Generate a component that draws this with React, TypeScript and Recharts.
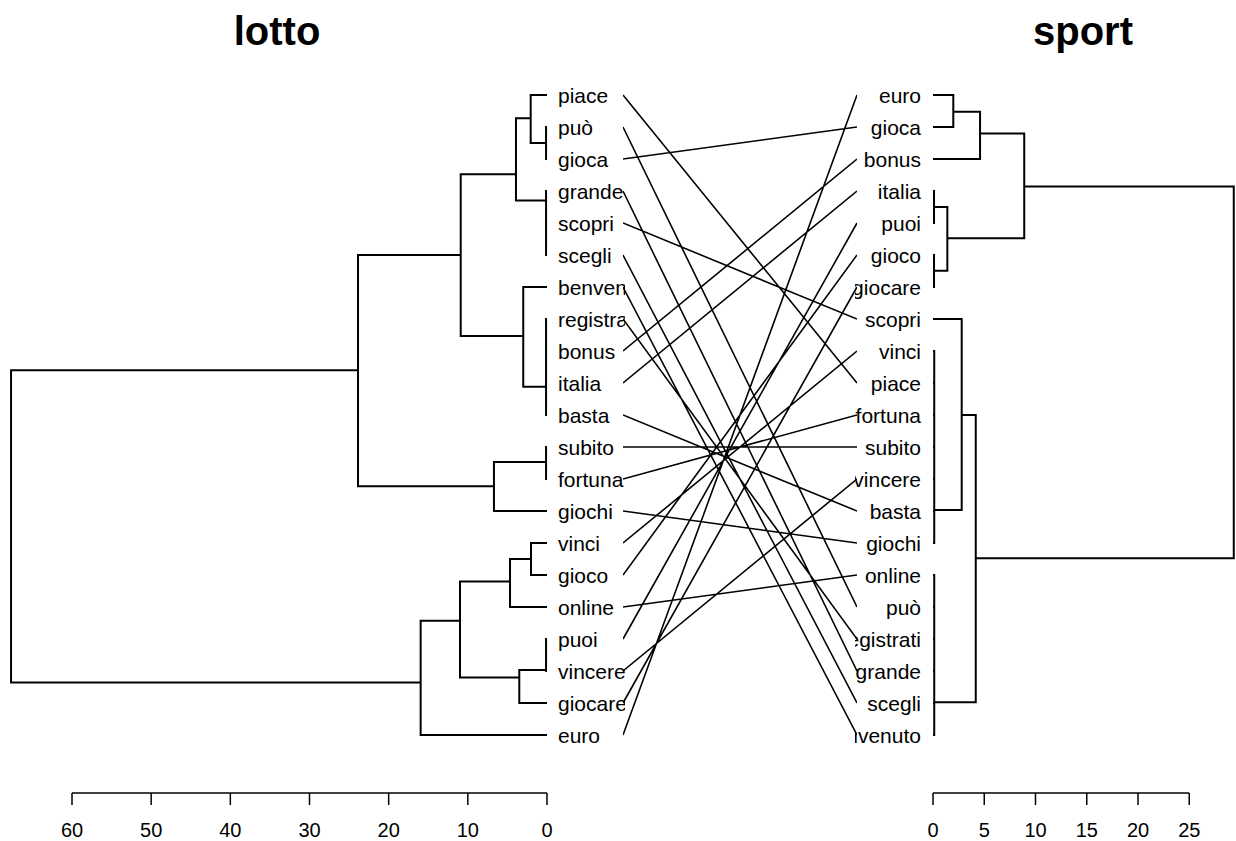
import { ComposedChart, Line, Scatter, XAxis, YAxis } from "recharts";

const FONT = '"Liberation Sans", Arial, Helvetica, sans-serif';

// leaf order of each dendrogram, top to bottom
const lottoLeaves = [
  "piace", "può", "gioca", "grande", "scopri", "scegli", "benvenuto",
  "registrati", "bonus", "italia", "basta", "subito", "fortuna", "giochi",
  "vinci", "gioco", "online", "puoi", "vincere", "giocare", "euro",
];

const sportLeaves = [
  "euro", "gioca", "bonus", "italia", "puoi", "gioco", "giocare", "scopri",
  "vinci", "piace", "fortuna", "subito", "vincere", "basta", "giochi",
  "online", "può", "registrati", "grande", "scegli", "benvenuto",
];

// internal nodes: [id, children, merge height, drawn position in leaf units]
type Merge = [string, string[], number, number];

const lottoMerges: Merge[] = [
  ["A", ["può", "gioca"], 0.12, 1.5],
  ["B", ["piace", "A"], 2.06, 0.73],
  ["C", ["grande", "scopri", "scegli"], 0.12, 3.3],
  ["D", ["B", "C"], 3.92, 2.48],
  ["F", ["registrati", "bonus", "italia", "basta"], 0.12, 9.12],
  ["G", ["benvenuto", "F"], 3.0, 7.53],
  ["H", ["D", "G"], 10.9, 5.0],
  ["I", ["subito", "fortuna"], 0.12, 11.47],
  ["J", ["I", "giochi"], 6.7, 12.23],
  ["K", ["H", "J"], 23.87, 8.6],
  ["L", ["vinci", "gioco"], 2.02, 14.5],
  ["M", ["L", "online"], 4.67, 15.2],
  ["N", ["puoi", "vincere"], 0.12, 17.97],
  ["O", ["N", "giocare"], 3.5, 18.2],
  ["P", ["M", "O"], 10.99, 16.43],
  ["Q", ["P", "euro"], 15.96, 18.36],
  ["root", ["K", "Q"], 67.7, 13.48],
];

const sportMerges: Merge[] = [
  ["R1", ["euro", "gioca"], 1.98, 0.52],
  ["R2", ["R1", "bonus"], 4.59, 1.2],
  ["R3", ["italia", "puoi"], 0.1, 3.5],
  ["R4", ["gioco", "giocare"], 0.1, 5.49],
  ["R5", ["R3", "R4"], 1.4, 4.48],
  ["R6", ["R2", "R5"], 8.9, 2.86],
  ["S", ["vinci", "piace", "fortuna", "subito", "vincere", "basta", "giochi"], 0.12, 12.97],
  ["R7", ["scopri", "S"], 2.8, 10.0],
  ["T", ["online", "può", "registrati", "grande", "scegli", "benvenuto"], 0.12, 18.98],
  ["R8", ["R7", "T"], 4.17, 14.48],
  ["root", ["R6", "R8"], 29.34, 8.67],
];

const lottoTicks = [0, 10, 20, 30, 40, 50, 60];
const sportTicks = [0, 5, 10, 15, 20, 25];

type Pt = { h: number; pos: number | null };

// rectangle edges: parent height at parent pos -> child pos -> child height,
// each edge separated by a null so the Line breaks between them
function treeEdges(leaves: string[], merges: Merge[]): Pt[] {
  const at: Record<string, { h: number; pos: number }> = {};
  leaves.forEach((name, i) => (at[name] = { h: 0, pos: i }));
  merges.forEach(([id, , h, pos]) => (at[id] = { h, pos }));
  const pts: Pt[] = [];
  merges.forEach(([, kids, h, pos]) => {
    kids.forEach((k) => {
      const c = at[k];
      pts.push({ h, pos }, { h, pos: c.pos }, { h: c.h, pos: c.pos }, { h: c.h, pos: null });
    });
  });
  return pts;
}

const links: { x: number; y: number | null }[] = [];
lottoLeaves.forEach((w, i) => {
  links.push({ x: 0, y: i }, { x: 1, y: sportLeaves.indexOf(w) }, { x: 1, y: null });
});

const leafPoints = (leaves: string[]) => leaves.map((name, i) => ({ h: 0, pos: i, name }));
const tickPoints = (ticks: number[]) => ticks.map((h) => ({ h, pos: 0 }));

const LottoLabel = (p: any) => (
  <text x={p.cx + 11} y={p.cy} dominantBaseline="central" fontSize={21} fontFamily={FONT} fill="#000">
    {p.payload.name}
  </text>
);

const SportLabel = (p: any) => (
  <text x={p.cx - 12} y={p.cy} textAnchor="end" dominantBaseline="central" fontSize={21} fontFamily={FONT} fill="#000">
    {p.payload.name}
  </text>
);

const NoMark = () => <g />;

const H = 841;
const TOP = 95;
const BOTTOM = H - 735;

const axisStyle = { stroke: "#000", strokeWidth: 1.5 };
const tickStyle = { fill: "#000", fontSize: 20, fontFamily: FONT };

function Title({ text, cx }: { text: string; cx: number }) {
  return (
    <div
      style={{
        position: "absolute",
        left: cx - 100,
        top: 11,
        width: 200,
        textAlign: "center",
        font: `bold 40px/40px ${FONT}`,
        color: "#000",
      }}
    >
      {text}
    </div>
  );
}

function HeightAxis({ ticks, reversed, width, left, right }: {
  ticks: number[];
  reversed: boolean;
  width: number;
  left: number;
  right: number;
}) {
  return (
    <ComposedChart width={width} height={81} margin={{ top: 0, right, bottom: 0, left }}>
      <XAxis
        type="number"
        dataKey="h"
        domain={[ticks[0], ticks[ticks.length - 1]]}
        ticks={ticks}
        reversed={reversed}
        height={48}
        tickSize={12}
        tickMargin={18}
        axisLine={axisStyle}
        tickLine={axisStyle}
        tick={tickStyle}
        interval={0}
      />
      <YAxis type="number" dataKey="pos" domain={[0, 1]} hide />
      <Scatter data={tickPoints(ticks)} shape={NoMark} isAnimationActive={false} />
    </ComposedChart>
  );
}

export default function App() {
  return (
    <div
      style={{
        position: "absolute",
        left: 0,
        top: 0,
        width: 1236,
        height: H,
        background: "#fff",
        overflow: "hidden",
        fontFamily: FONT,
      }}
    >
      <Title text="lotto" cx={277} />
      <Title text="sport" cx={1083} />

      {/* lotto dendrogram, heights growing to the left */}
      <div style={{ position: "absolute", left: 0, top: 0, width: 625, height: H, overflow: "hidden" }}>
        <ComposedChart width={625} height={H} margin={{ top: TOP, right: 78, bottom: BOTTOM, left: 8.67 }}>
          <XAxis type="number" dataKey="h" domain={[0, 68]} reversed hide />
          <YAxis type="number" dataKey="pos" domain={[0, 20]} reversed hide />
          <Line
            data={treeEdges(lottoLeaves, lottoMerges)}
            dataKey="pos"
            type="linear"
            stroke="#000"
            strokeWidth={2}
            dot={false}
            activeDot={false}
            isAnimationActive={false}
          />
          <Scatter data={leafPoints(lottoLeaves)} shape={LottoLabel} isAnimationActive={false} />
        </ComposedChart>
      </div>

      {/* sport dendrogram, heights growing to the right */}
      <div style={{ position: "absolute", left: 855, top: 0, width: 381, height: H, overflow: "hidden" }}>
        <ComposedChart width={381} height={H} margin={{ top: TOP, right: 0.6, bottom: BOTTOM, left: 78 }}>
          <XAxis type="number" dataKey="h" domain={[0, 29.5]} hide />
          <YAxis type="number" dataKey="pos" domain={[0, 20]} reversed hide />
          <Line
            data={treeEdges(sportLeaves, sportMerges)}
            dataKey="pos"
            type="linear"
            stroke="#000"
            strokeWidth={2}
            dot={false}
            activeDot={false}
            isAnimationActive={false}
          />
          <Scatter data={leafPoints(sportLeaves)} shape={SportLabel} isAnimationActive={false} />
        </ComposedChart>
      </div>

      {/* connecting lines between matching leaves */}
      <div style={{ position: "absolute", left: 623, top: 0, width: 234, height: H }}>
        <ComposedChart width={234} height={H} margin={{ top: TOP, right: 0, bottom: BOTTOM, left: 0 }}>
          <XAxis type="number" dataKey="x" domain={[0, 1]} hide />
          <YAxis type="number" domain={[0, 20]} reversed hide />
          <Line
            data={links}
            dataKey="y"
            type="linear"
            stroke="#000"
            strokeWidth={1.6}
            dot={false}
            activeDot={false}
            isAnimationActive={false}
          />
        </ComposedChart>
      </div>

      {/* height axes */}
      <div style={{ position: "absolute", left: 0, top: 760, width: 625, height: 81 }}>
        <HeightAxis ticks={lottoTicks} reversed width={625} left={72} right={78} />
      </div>
      <div style={{ position: "absolute", left: 855, top: 760, width: 381, height: 81 }}>
        <HeightAxis ticks={sportTicks} reversed={false} width={381} left={78} right={46.75} />
      </div>
    </div>
  );
}
